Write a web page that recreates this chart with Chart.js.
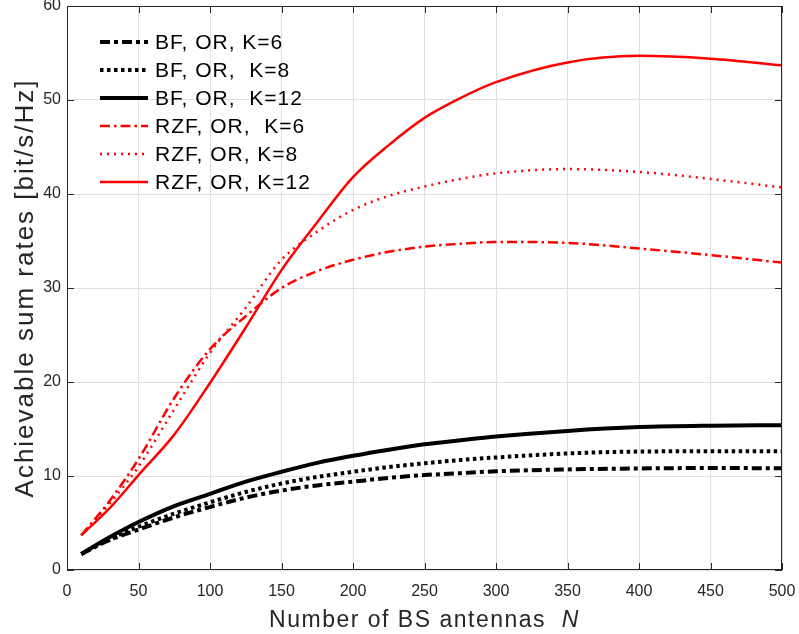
<!DOCTYPE html>
<html>
<head>
<meta charset="utf-8">
<script src="https://cdn.jsdelivr.net/npm/chart.js@4.4.1/dist/chart.umd.min.js"></script>
<style>
  html, body { margin: 0; padding: 0; background: #fff; }
  #wrap { width: 799px; height: 634px; }
</style>
</head>
<body>
<div id="wrap"><canvas id="chart" width="799" height="634"></canvas></div>
<script>
const antennas = [10, 30, 50, 75, 100, 125, 150, 175, 200, 225, 250, 275, 300, 350, 400, 450, 500];

const bfK6 = [1.7, 3.2, 4.3, 5.6, 6.7, 7.7, 8.45, 9.0, 9.4, 9.8, 10.1, 10.3, 10.5, 10.7, 10.8, 10.85, 10.82];
const bfK8 = [1.7, 3.3, 4.6, 6.0, 7.2, 8.3, 9.2, 9.9, 10.45, 10.95, 11.35, 11.7, 11.97, 12.4, 12.6, 12.63, 12.63];
const bfK12 = [1.7, 3.5, 5.1, 6.8, 8.1, 9.4, 10.45, 11.4, 12.15, 12.8, 13.37, 13.8, 14.2, 14.8, 15.2, 15.35, 15.4];
const rzfK6 = [3.7, 7.4, 11.8, 18.3, 23.5, 27.0, 30.0, 31.8, 33.0, 33.85, 34.4, 34.7, 34.9, 34.8, 34.2, 33.5, 32.7];
const rzfK8 = [3.7, 7.1, 11.0, 17.1, 23.1, 27.9, 33.0, 36.0, 38.3, 39.8, 40.8, 41.6, 42.2, 42.65, 42.35, 41.6, 40.7];
const rzfK12 = [3.7, 6.6, 10.1, 14.4, 19.9, 25.8, 31.9, 37.0, 41.8, 45.2, 48.1, 50.2, 51.9, 54.0, 54.7, 54.4, 53.7];

const labels = [
  "BF, OR, K=6",
  "BF, OR,  K=8",
  "BF, OR,  K=12",
  "RZF, OR,  K=6",
  "RZF, OR, K=8",
  "RZF, OR, K=12",
];

const FONT = "'Liberation Sans', Helvetica, Arial, sans-serif";
const AXIS_COLOR = "#262626";

const toPoints = (ys) => antennas.map((n, i) => ({ x: n, y: ys[i] }));

const makeSet = (label, ys, color, width, dash) => ({
  label,
  data: toPoints(ys),
  borderColor: color,
  borderWidth: width,
  borderDash: dash,
  borderCapStyle: "butt",
  pointRadius: 0,
  fill: false,
  cubicInterpolationMode: "monotone",
});

// frame with inward ticks, titles and legend (MATLAB look)
const framePlugin = {
  id: "frame",
  afterDatasetsDraw(chart) {
    const { ctx, chartArea: a, scales } = chart;
    ctx.save();
    ctx.strokeStyle = AXIS_COLOR;
    ctx.lineWidth = 1;
    ctx.strokeRect(a.left + 0.5, a.top + 0.5, a.right - a.left - 1, a.bottom - a.top - 1);
    const tl = 7;
    ctx.beginPath();
    scales.x.ticks.forEach((t) => {
      const px = Math.round(scales.x.getPixelForValue(t.value)) + 0.5;
      ctx.moveTo(px, a.bottom);
      ctx.lineTo(px, a.bottom - tl);
      ctx.moveTo(px, a.top);
      ctx.lineTo(px, a.top + tl);
    });
    scales.y.ticks.forEach((t) => {
      const py = Math.round(scales.y.getPixelForValue(t.value)) + 0.5;
      ctx.moveTo(a.left, py);
      ctx.lineTo(a.left + tl, py);
      ctx.moveTo(a.right, py);
      ctx.lineTo(a.right - tl, py);
    });
    ctx.stroke();

    // legend
    ctx.textBaseline = "middle";
    ctx.textAlign = "left";
    ctx.font = `21px ${FONT}`;
    ctx.letterSpacing = "1px";
    chart.data.datasets.forEach((ds, i) => {
      const y = 42 + i * 28;
      ctx.beginPath();
      ctx.strokeStyle = ds.borderColor;
      ctx.lineWidth = ds.borderWidth;
      ctx.lineCap = "butt";
      ctx.setLineDash(ds.borderDash);
      ctx.moveTo(100, y);
      ctx.lineTo(148, y);
      ctx.stroke();
      ctx.setLineDash([]);
      ctx.fillStyle = "#000";
      ctx.fillText(ds.label, 155, y + 1);
    });

    // axis titles
    ctx.fillStyle = AXIS_COLOR;
    ctx.textBaseline = "alphabetic";
    ctx.letterSpacing = "1.5px";
    const main = "Number of BS antennas  ";
    ctx.font = `23px ${FONT}`;
    const w1 = ctx.measureText(main).width;
    ctx.font = `italic 23px ${FONT}`;
    const w2 = ctx.measureText("N").width;
    const x0 = (a.left + a.right) / 2 - (w1 + w2) / 2;
    ctx.font = `23px ${FONT}`;
    ctx.fillText(main, x0, 627);
    ctx.font = `italic 23px ${FONT}`;
    ctx.fillText("N", x0 + w1, 627);

    ctx.font = `26px ${FONT}`;
    ctx.letterSpacing = "2px";
    ctx.translate(33, (a.top + a.bottom) / 2);
    ctx.rotate(-Math.PI / 2);
    ctx.textAlign = "center";
    ctx.fillText("Achievable sum rates [bit/s/Hz]", 0, 0);
    ctx.restore();
  },
};

new Chart(document.getElementById("chart"), {
  type: "line",
  data: {
    datasets: [
      makeSet(labels[0], bfK6, "#000000", 4, [10, 4, 4, 4]),
      makeSet(labels[1], bfK8, "#000000", 4, [3.5, 3.5]),
      makeSet(labels[2], bfK12, "#000000", 4, []),
      makeSet(labels[3], rzfK6, "#ff0000", 2.5, [10, 4, 2.5, 4]),
      makeSet(labels[4], rzfK8, "#ff0000", 2.5, [2, 5]),
      makeSet(labels[5], rzfK12, "#ff0000", 2.5, []),
    ],
  },
  options: {
    responsive: false,
    animation: false,
    layout: { padding: { top: 6, right: 17, left: 0, bottom: 0 } },
    plugins: {
      legend: { display: false },
      tooltip: { enabled: false },
    },
    scales: {
      x: {
        type: "linear",
        min: 0,
        max: 500,
        ticks: {
          stepSize: 50,
          color: AXIS_COLOR,
          font: { family: FONT, size: 16 },
          padding: 12,
          maxRotation: 0,
        },
        grid: { color: "#e0e0e0", drawTicks: false },
        border: { display: false },
        afterFit: (scale) => {
          scale.height = 64;
          scale.paddingLeft = 0;
          scale.paddingRight = 0;
        },
      },
      y: {
        min: 0,
        max: 60,
        ticks: {
          stepSize: 10,
          color: AXIS_COLOR,
          font: { family: FONT, size: 16 },
          padding: 6,
        },
        grid: { color: "#e0e0e0", drawTicks: false },
        border: { display: false },
        afterFit: (scale) => {
          scale.width = 67;
          scale.paddingTop = 0;
          scale.paddingBottom = 0;
        },
      },
    },
  },
  plugins: [framePlugin],
});
</script>
</body>
</html>
